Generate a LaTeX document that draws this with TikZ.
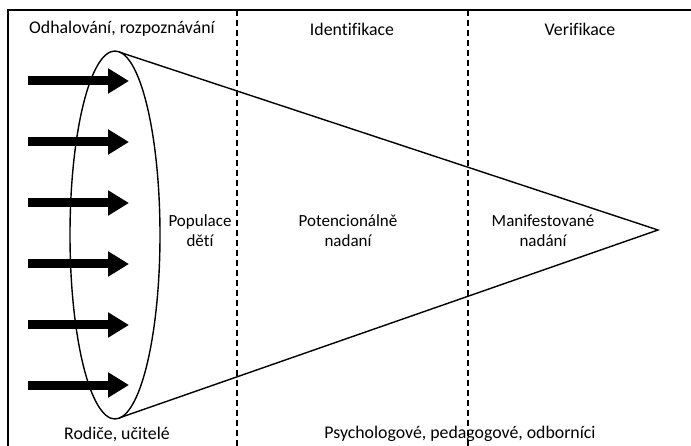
\documentclass[tikz,border=0pt]{standalone}
\usepackage{fontspec}
\setmainfont[Ligatures=NoCommon]{Carlito}
\usetikzlibrary{arrows.meta,shapes.geometric}
\begin{document}
\begin{tikzpicture}[x=1pt,y=-1pt,font=\fontsize{17.8}{20}\selectfont,
		txt/.style={align=center,inner sep=0pt},
		mid/.style={txt,font=\fontsize{17}{20}\selectfont},
		sep/.style={line width=1.5pt,dash pattern=on 6pt off 4pt},
		fat/.style={line width=9pt,-{Triangle[length=21pt,width=24pt]}}]
		\useasboundingbox (0,0) rectangle (691,446);
		% frame (cut off right and bottom)
		\draw[line width=2.2pt] (691,10) -- (8,10) -- (8,446);
		% phases
		\node[txt] (h1) at (122,29) {Odhalování, rozpoznávání};
		\node[txt] (h2) at (352,29) {Identifikace};
		\node[txt] (h3) at (580,29) {Verifikace};
		\coordinate (s1t) at (237,10);
		\coordinate (s1b) at (237,446);
		\coordinate (s2t) at (468,10);
		\coordinate (s2b) at (468,446);
		\draw[sep] (s1t) -- (s1b);
		\draw[sep] (s2t) -- (s2b);
		% cone
		\node[draw,ellipse,line width=1.4pt,minimum width=90pt,minimum height=368pt,inner sep=0pt] (pop) at (115,235) {};
		\coordinate (apex) at (658,230);
		\coordinate (ct) at (119,52);
		\coordinate (cb) at (119,418);
		\draw[line width=1.4pt] (ct) -- (apex) -- (cb);
		\node[mid] (v1) at (200,231) {Populace\\dětí};
		\node[mid] (v2) at (348,231) {Potencionálně\\nadaní};
		\node[mid] (v3) at (543,231) {Manifestované\\nadání};
		% arrows
		\foreach \i/\y in {1/81,2/142,3/203,4/264,5/325,6/385}{
			\coordinate (a\i) at (28,\y);
			\coordinate (b\i) at (129,\y);
			\draw[fat] (a\i) -- (b\i);
		}
		% who
		\node[txt] (w1) at (117,434) {Rodiče, učitelé};
		\node[txt] (w2) at (460,434) {Psychologové, pedagogové, odborníci};
	\end{tikzpicture}
\end{document}
